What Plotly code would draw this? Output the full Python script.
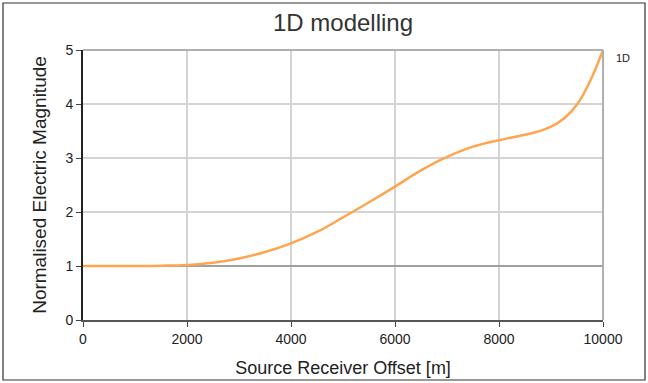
import plotly.graph_objects as go

# Source-receiver offset in metres and normalised field magnitude
offset_m = [0, 500, 1000, 1500, 2000, 2500, 3000, 3500, 4000, 4500, 5000,
            5500, 6000, 6500, 7000, 7500, 8000, 8250, 8500, 8750, 9000,
            9250, 9500, 9750, 10000]
magnitude_1d = [1.0, 1.0, 1.0, 1.005, 1.02, 1.06, 1.14, 1.26, 1.42, 1.63, 1.9,
                2.18, 2.47, 2.77, 3.02, 3.21, 3.33, 3.38, 3.43, 3.49, 3.58,
                3.73, 3.99, 4.42, 5.0]

# Background (normalisation) level
reference_x = [0, 10000]
reference_y = [1, 1]

x_ticks = [0, 2000, 4000, 6000, 8000, 10000]
x_tick_labels = ["0", "2000", "4000", "6000", "8000", "10000"]
y_ticks = [0, 1, 2, 3, 4, 5]

W, H = 648, 383
ML, MR, MT, MB = 83, 45, 50, 63
pw, ph = W - ML - MR, H - MT - MB

fig = go.Figure()
fig.add_trace(go.Scatter(x=reference_x, y=reference_y, mode="lines",
                         line=dict(color="#a0a0a0", width=2),
                         showlegend=False, hoverinfo="skip"))
fig.add_trace(go.Scatter(x=offset_m, y=magnitude_1d, mode="lines",
                         line=dict(color="#FFA54F", width=2.5, shape="spline",
                                   smoothing=1.2),
                         name="1D", showlegend=False))

font = "Liberation Sans, Arial, sans-serif"
fig.update_layout(
    width=W, height=H,
    margin=dict(l=ML, r=MR, t=MT, b=MB, autoexpand=False),
    paper_bgcolor="white", plot_bgcolor="white",
    font=dict(family=font, color="#222"),
    title=dict(text="1D modelling", x=(ML + pw / 2) / W, xanchor="center",
               y=1 - 23 / H, yanchor="middle",
               font=dict(size=24, color="#333")),
    xaxis=dict(range=[0, 10000], tickvals=x_ticks, ticktext=x_tick_labels,
               ticks="outside", ticklen=5, tickcolor="#444", showline=True,
               linecolor="#555", linewidth=2, mirror=False, showgrid=True,
               gridcolor="#d4d4d4", gridwidth=1.5, zeroline=False,
               tickfont=dict(size=14), automargin=False,
               title=dict(text="Source Receiver Offset [m]",
                          font=dict(size=18), standoff=16)),
    yaxis=dict(range=[0, 5], tickvals=y_ticks, ticks="outside", ticklen=5,
               tickcolor="#444", showline=True, linecolor="#222",
               linewidth=2, showgrid=True, gridcolor="#d4d4d4",
               gridwidth=1.5, zeroline=False, tickfont=dict(size=14),
               automargin=False,
               title=dict(text="Normalised Electric Magnitude",
                          font=dict(size=19), standoff=14)),
    shapes=[
        # top and right edges of the plotting area
        dict(type="line", xref="paper", yref="paper", x0=0, x1=1, y0=1, y1=1,
             line=dict(color="#b0b0b0", width=2)),
        dict(type="line", xref="paper", yref="paper", x0=1, x1=1, y0=0, y1=1,
             line=dict(color="#b0b0b0", width=2)),
        # frame around the whole chart
        dict(type="rect", xref="paper", yref="paper",
             x0=(3 - ML) / pw, x1=(W - 3 - ML) / pw,
             y0=-(MB - 3) / ph, y1=1 + (MT - 3) / ph,
             line=dict(color="#333", width=1.2)),
    ],
    annotations=[
        dict(text="1D", xref="paper", yref="paper", x=(623 - ML) / pw,
             y=1 - (58 - MT) / ph, showarrow=False, xanchor="center",
             yanchor="middle", font=dict(size=11, color="#222")),
    ],
)

fig.write_html("out.html")
